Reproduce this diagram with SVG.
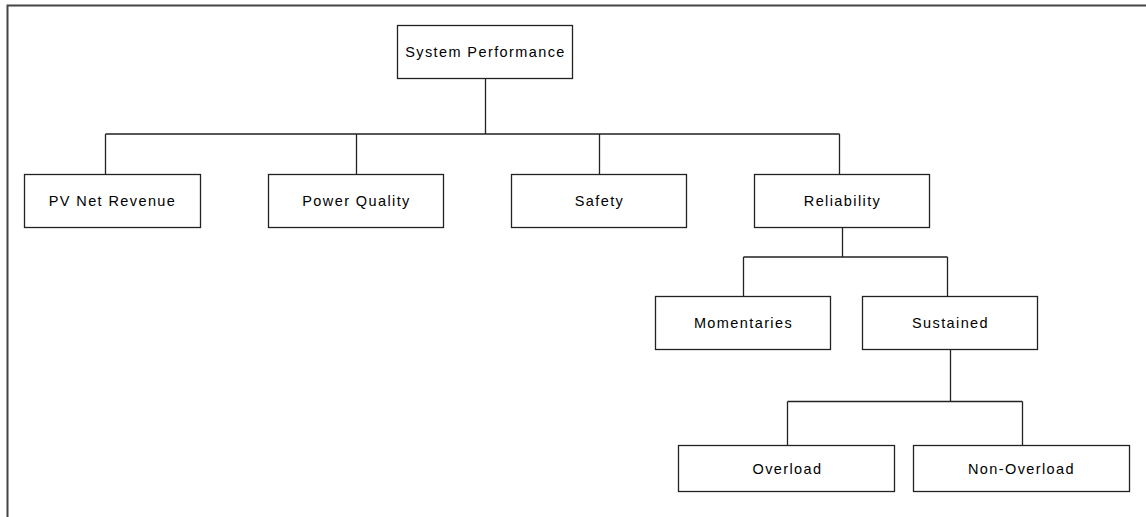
<svg xmlns="http://www.w3.org/2000/svg" width="1146" height="517" viewBox="0 0 1146 517">
<style>
.box{fill:#fff;stroke:#222;stroke-width:1.3}
.lbl{font-family:"Liberation Sans",Arial,sans-serif;font-size:14.5px;letter-spacing:1.4px;fill:#000;text-anchor:middle;dominant-baseline:central}
.con{fill:none;stroke:#222;stroke-width:1.3}
</style>
<rect width="1146" height="517" fill="#fff"/>
<path d="M7.5 517 V5.5 H1146" fill="none" stroke="#444" stroke-width="2"/>
<g id="connectors" class="con">
<path d="M485.5 78 V134 M105.5 134 H839.5 M105.5 134 V174 M356.5 134 V174 M599.5 134 V174 M839.5 134 V174"/>
<path d="M842.5 227 V257 M743.5 257 H947.5 M743.5 257 V296 M947.5 257 V296"/>
<path d="M950.5 349 V401.5 M787.5 401.5 H1022.5 M787.5 401.5 V445 M1022.5 401.5 V445"/>
</g>
<g id="system-performance"><rect class="box" x="397.5" y="25.5" width="175" height="53"/><text class="lbl" x="485.5" y="52">System Performance</text></g>
<g id="pv-net-revenue"><rect class="box" x="24.5" y="174.5" width="176" height="53"/><text class="lbl" x="112.5" y="201">PV Net Revenue</text></g>
<g id="power-quality"><rect class="box" x="268.5" y="174.5" width="175" height="53"/><text class="lbl" x="356.5" y="201">Power Quality</text></g>
<g id="safety"><rect class="box" x="511.5" y="174.5" width="175" height="53"/><text class="lbl" x="599.5" y="201">Safety</text></g>
<g id="reliability"><rect class="box" x="754.5" y="174.5" width="175" height="53"/><text class="lbl" x="842.5" y="201">Reliability</text></g>
<g id="momentaries"><rect class="box" x="655.5" y="296.5" width="175" height="53"/><text class="lbl" x="743.5" y="323">Momentaries</text></g>
<g id="sustained"><rect class="box" x="862.5" y="296.5" width="175" height="53"/><text class="lbl" x="950.5" y="323">Sustained</text></g>
<g id="overload"><rect class="box" x="678.5" y="445.5" width="216" height="46"/><text class="lbl" x="787.5" y="469">Overload</text></g>
<g id="non-overload"><rect class="box" x="913.5" y="445.5" width="216" height="46"/><text class="lbl" x="1021.5" y="469">Non-Overload</text></g>
</svg>
